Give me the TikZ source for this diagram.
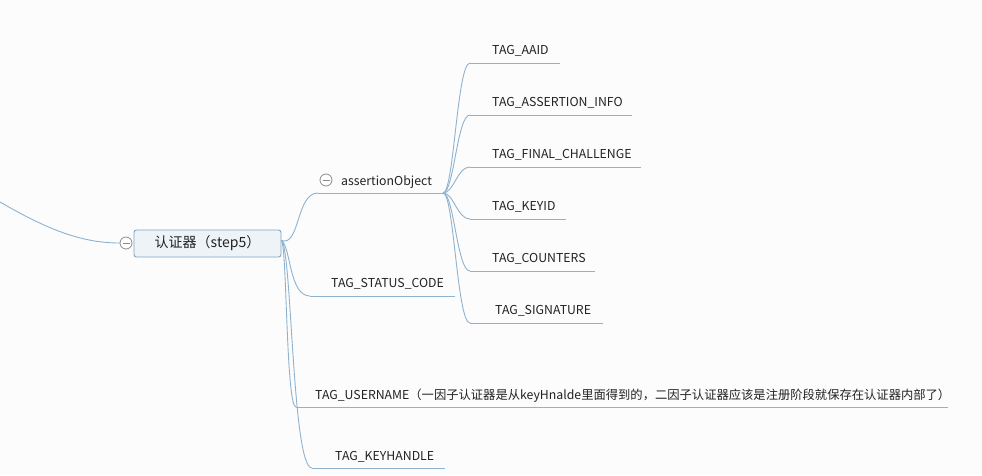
\documentclass[tikz,border=0pt]{standalone}
\usepackage{fontspec}
\setmainfont{Noto Sans CJK SC}
\begin{document}
\begin{tikzpicture}[x=1pt,y=-1pt,
  conn/.style={draw=linec, line width=0.9pt},
  uline/.style={draw=linec, line width=0.9pt},
  lbl/.style={anchor=base west, inner sep=0pt, font=\fontsize{12.3}{14}\selectfont, text=txtc},
  collapse/.style={circle, draw=circc, fill=white, line width=0.8pt, minimum size=12pt, inner sep=0pt,
    path picture={\draw[circc, line width=0.8pt] ([xshift=-3.5pt]path picture bounding box.center) -- ([xshift=3.5pt]path picture bounding box.center);}},
  rootbox/.style={draw=boxc, fill=boxf, rounded corners=2.5pt, line width=0.9pt, minimum width=147pt, minimum height=27pt, inner sep=0pt, font=\fontsize{14}{16}\selectfont, text=txtc}
]
\definecolor{linec}{HTML}{8FB2CE}
\definecolor{boxc}{HTML}{7EA6C6}
\definecolor{boxf}{HTML}{EEF3F7}
\definecolor{circc}{HTML}{8C8C8C}
\definecolor{txtc}{HTML}{222222}
\definecolor{bgc}{HTML}{FCFCFC}
\fill[bgc] (0,0) rectangle (982,475);
\useasboundingbox (0,0) rectangle (982,475);

% root
\node[rootbox] (root) at (207.5,243.5) {认证器（step5）};
\node[collapse] (rc) at (126,243) {};
\coordinate (lstart) at (0,202);
\draw[conn] (lstart) .. controls (45,228) and (80,243) .. (rc.west);

% root children
\coordinate (rs) at ([yshift=3pt]root.east);
% assertionObject
\coordinate (aoL) at (318,193);
\coordinate (aoR) at (443,193);
\draw[conn] (rs) .. controls (300,247) and (296,193) .. (aoL);
\draw[uline] (aoL) -- (aoR);
\node[collapse] (aoc) at (326,180) {};
\node[lbl] (ao) at (341,185.5) {assertionObject};

% status code
\coordinate (scL) at (310,296);
\coordinate (scR) at (455,296);
\draw[conn] (rs) .. controls (291,247) and (289,296) .. (scL);
\draw[uline] (scL) -- (scR);
\node[lbl] (sc) at (331,287.5) {TAG\_STATUS\_CODE};

% username
\coordinate (unL) at (296,407);
\coordinate (unR) at (948,407);
\draw[conn] (rs) .. controls (287,247) and (286,407) .. (unL);
\draw[uline] (unL) -- (unR);
\node[lbl] (un) at (315,399.5) {TAG\_USERNAME（一因子认证器是从keyHnalde里面得到的，二因子认证器应该是注册阶段就保存在认证器内部了）};

% keyhandle
\coordinate (khL) at (312,468);
\coordinate (khR) at (445,468);
\draw[conn] (rs) .. controls (292,249) and (292,468) .. (khL);
\draw[uline] (khL) -- (khR);
\node[lbl] (kh) at (335,460.5) {TAG\_KEYHANDLE};

% assertionObject children
\foreach \n/\y/\xr/\xt/\t in {
  aaid/63/560/492/TAG\_AAID,
  ainfo/115/632/492/TAG\_ASSERTION\_INFO,
  fch/167/641/492/TAG\_FINAL\_CHALLENGE,
  kid/219/566/492/TAG\_KEYID,
  cnt/271/595/492/TAG\_COUNTERS,
  sig/323/603/495/TAG\_SIGNATURE}{
  \coordinate (\n L) at (470,\y);
  \coordinate (\n R) at (\xr,\y);
  \draw[conn] (aoR) .. controls (454,193) and (457,\y) .. (\n L);
  \draw[uline] (\n L) -- (\n R);
  \node[lbl] (\n) at (\xt,\y-8.5) {\t};
}
\end{tikzpicture}
\end{document}
